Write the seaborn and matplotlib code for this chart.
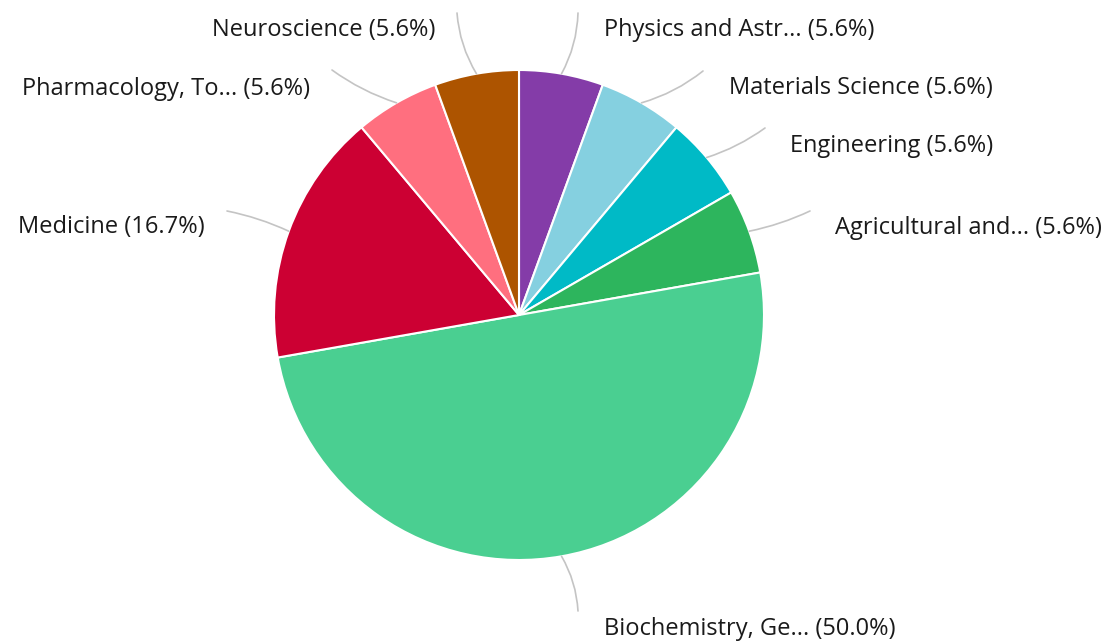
import matplotlib
matplotlib.use("Agg")
import matplotlib.pyplot as plt
import seaborn as sns
import numpy as np

labels = ["Physics and Astr...", "Materials Science", "Engineering", "Agricultural and...",
          "Biochemistry, Ge...", "Medicine", "Pharmacology, To...", "Neuroscience"]
counts = [1, 1, 1, 1, 9, 3, 1, 1]
colors = ["#843ca8", "#85d0e0", "#00bac6", "#2db55d", "#4acf91", "#cc0033", "#ff6f7f", "#ad5400"]

# label anchor (text x, y) and connector end, in pixels of the reference picture
text_pos = [(604, 30, "left"), (729, 88, "left"), (790, 146, "left"), (835, 228, "left"),
            (604, 629, "left"), (205, 227, "right"), (310, 89, "right"), (435, 30, "right")]
line_end = [(578, 13), (703, 71), (765, 128), (810, 211),
            (578, 611), (227, 211), (332, 70), (457, 13)]
line_rad = [-0.12, -0.1, -0.08, -0.06, 0.12, -0.06, 0.08, 0.12]

W, H = 1112, 641
cx, cy, R = 519, 315, 245

sns.set_theme(style="white")
plt.rcParams['font.family'] = ['Open Sans', 'DejaVu Sans']

fig = plt.figure(figsize=(W / 100, H / 100), dpi=100)
ax = fig.add_axes([0, 0, 1, 1])


def px(x, y):
    return ((x - cx) / R, (cy - y) / R)


wedges, _ = ax.pie(counts, colors=colors, startangle=90, counterclock=False, radius=1,
                   wedgeprops=dict(edgecolor="white", linewidth=1.5))

total = sum(counts)
for w, lab, n, tp, le, rad in zip(wedges, labels, counts, text_pos, line_end, line_rad):
    mid = np.deg2rad((w.theta1 + w.theta2) / 2)
    edge = (np.cos(mid), np.sin(mid))
    ax.annotate("", xy=edge, xytext=px(*le),
                arrowprops=dict(arrowstyle="-", color="#c4c4c4", lw=1.2,
                                connectionstyle=f"arc3,rad={rad}", shrinkA=0, shrinkB=0))
    ax.text(*px(tp[0], tp[1]), f"{lab} ({n / total * 100:.1f}%)", ha=tp[2], va="center",
            fontsize=17, color="#1a1a1a")

ax.set_xlim(-cx / R, (W - cx) / R)
ax.set_ylim(-(H - cy) / R, cy / R)
ax.set_aspect("equal")
ax.axis("off")

fig.savefig("out.png", dpi=100)
